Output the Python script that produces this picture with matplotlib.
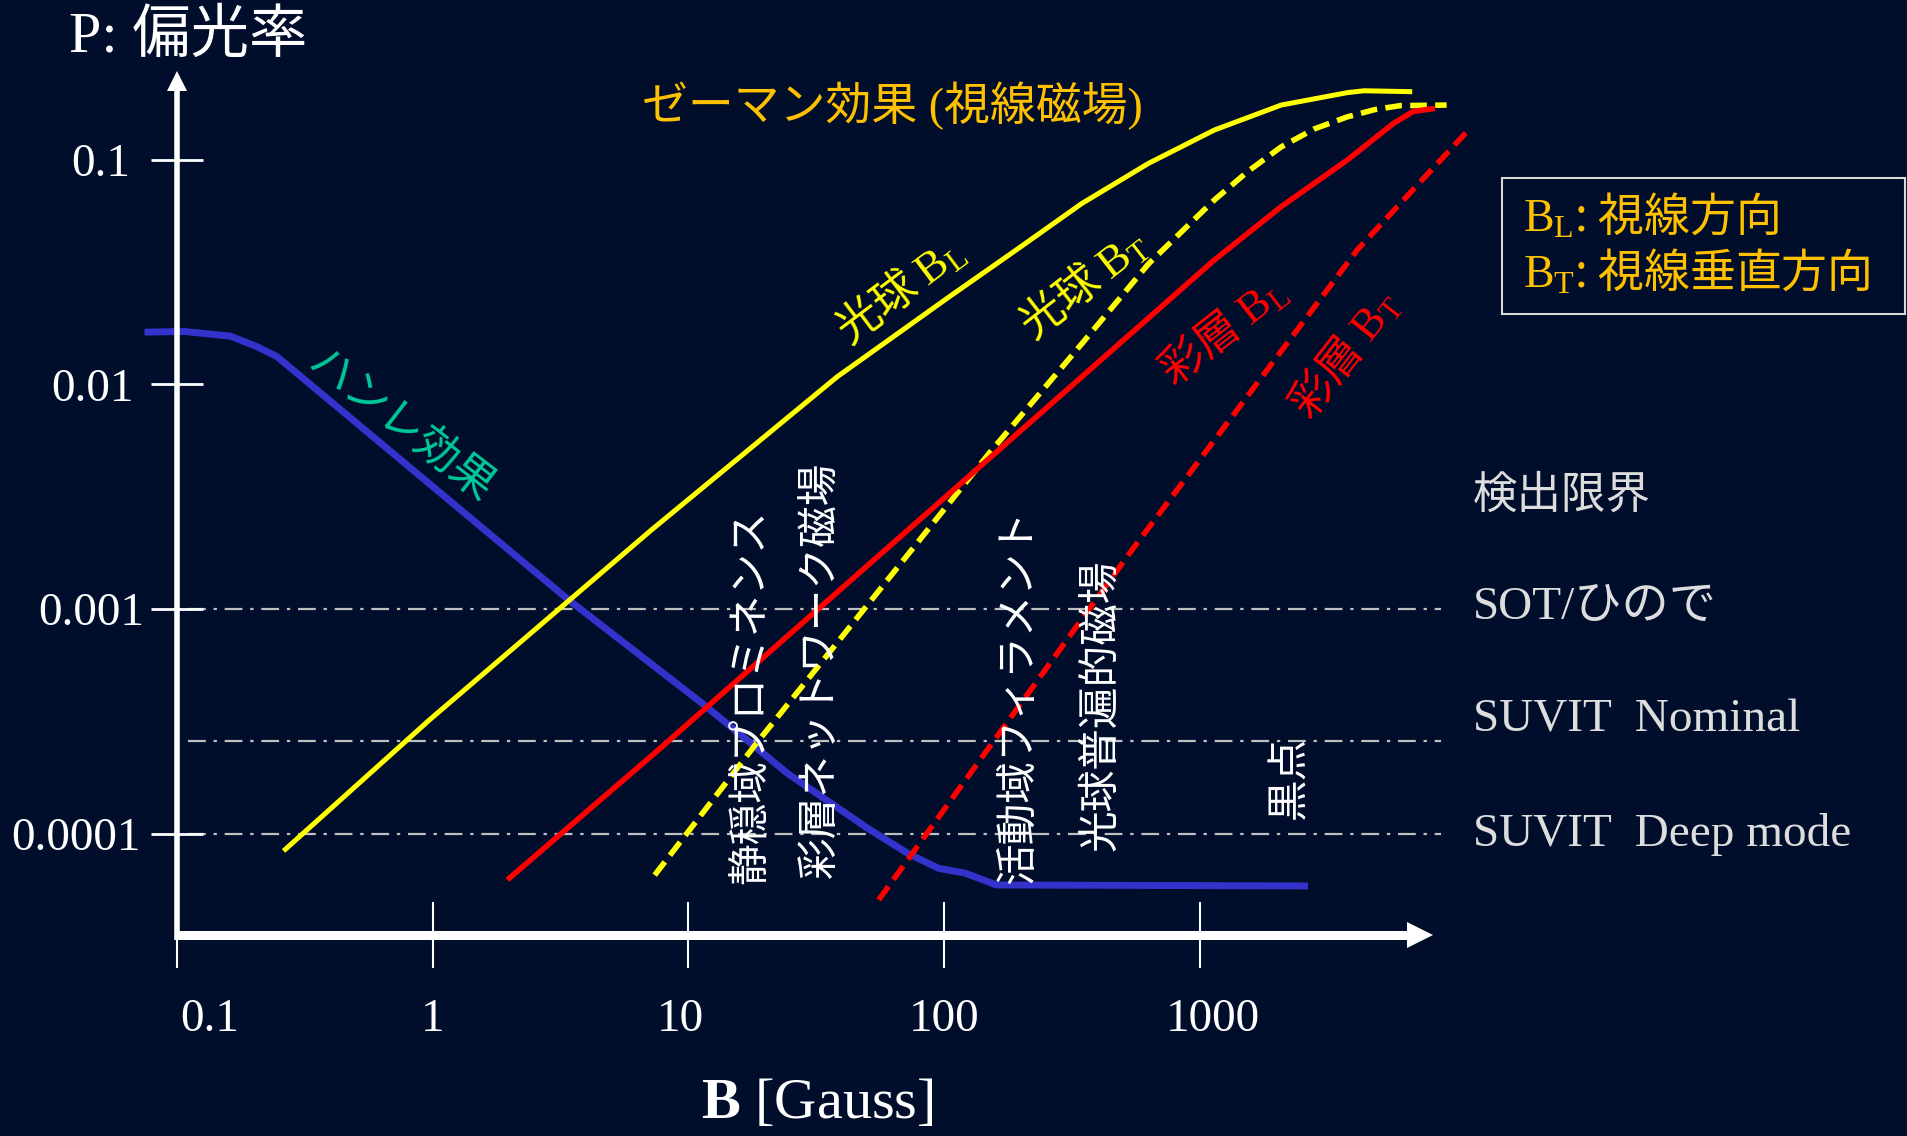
import matplotlib
matplotlib.use("Agg")
import matplotlib.pyplot as plt
from matplotlib.ticker import NullLocator
from matplotlib.transforms import ScaledTranslation
from matplotlib.patches import Rectangle

plt.rcParams['font.family'] = ['Liberation Serif', 'Noto Sans CJK JP']
plt.rcParams['mathtext.fontset'] = 'custom'
plt.rcParams['mathtext.rm'] = 'Liberation Serif'
plt.rcParams['mathtext.bf'] = 'Liberation Serif:bold'
plt.rcParams['mathtext.it'] = 'Liberation Serif:italic'

# ハンレ効果
hanle_B = [0.077, 0.107, 0.162, 0.206, 0.246, 3.40, 11.6, 24.4, 50.2, 72.0, 95.2, 121, 160, 2570]
hanle_P = [0.0171, 0.0172, 0.0164, 0.0147, 0.0133, 1.10e-3, 3.73e-4, 1.86e-4, 1.06e-4, 8.2e-5, 7.03e-5, 6.69e-5, 5.93e-5, 5.87e-5]

# 光球 BL / BT
photo_BL_B = [0.261, 0.969, 3.37, 7.16, 38.1, 105, 191, 346, 630, 1140, 2080, 3770, 4380, 6770]
photo_BL_P = [8.40e-5, 3.21e-4, 1.08e-3, 2.25e-3, 0.0108, 0.0246, 0.0396, 0.0639, 0.0963, 0.1355, 0.175, 0.1987, 0.2026, 0.2007]
photo_BT_B = [7.38, 18.5, 150, 346, 630, 1140, 1540, 2080, 2800, 3770, 4830, 6070, 9230]
photo_BT_P = [6.56e-5, 2.54e-4, 4.94e-3, 0.0152, 0.0344, 0.0662, 0.0886, 0.114, 0.137, 0.155, 0.167, 0.174, 0.175]

# 彩層 BL / BT
chromo_BL_B = [1.96, 7.38, 169, 1140, 2080, 3770, 5720, 6840, 8310]
chromo_BL_P = [6.25e-5, 2.29e-4, 5.28e-3, 0.0358, 0.0618, 0.0996, 0.145, 0.164, 0.169]
chromo_BT_B = [55.5, 542, 4120, 11400]
chromo_BT_P = [5.09e-5, 1.83e-3, 0.0396, 0.138]

# 検出限界
limit_P = [1e-3, 2.6e-4, 1e-4]
limit_labels = ['SOT/ひので', 'SUVIT  Nominal', 'SUVIT  Deep mode']

x_ticks = [0.1, 1, 10, 100, 1000]
x_ticklabels = ['0.1', '1', '10', '100', '1000']
y_ticks = [1e-4, 1e-3, 1e-2, 1e-1]
y_ticklabels = ['0.0001', '0.001', '0.01', '0.1']

# 縦書きラベル (text, x, y)
region_labels = [
    ('静穏域プロミネンス', 617, 573),
    ('彩層ネットワーク磁場', 675, 551),
    ('活動域フィラメント', 837, 573),
    ('光球普遍的磁場', 905, 580),
    ('黒点', 1061, 639),
]

bg = '#000D2B'
W, H = 1568.0, 934.0   # 座標は縮小画像基準


def fx(x):
    return x / W


def fy(y):
    return 1 - y / H


fig = plt.figure(figsize=(19.07, 11.36), dpi=100)
fig.patch.set_facecolor(bg)
ax = fig.add_axes([0.09282, 0.17694, 0.65810, 0.75995])
ax.set_facecolor(bg)
ax.set_xscale('log')
ax.set_yscale('log')
ax.set_xlim(10 ** -0.9710, 10 ** 3.9080)
ax.set_ylim(10 ** -4.4496, 10 ** -0.6085)
for s in ax.spines.values():
    s.set_visible(False)

# 軸（矢印）
ax.plot([0, 0], [-0.006, 0.979], transform=ax.transAxes, color='white', lw=4,
        solid_capstyle='butt', clip_on=False, zorder=5)
ax.plot([0], [0.989], marker='^', ms=14, color='white', mew=0,
        transform=ax.transAxes, clip_on=False, zorder=5)
ax.plot([-0.001, 0.983], [0, 0], transform=ax.transAxes, color='white', lw=6.5,
        solid_capstyle='butt', clip_on=False, zorder=5)
ax.plot([0.9904], [0], marker='>', ms=18.5, color='white', mew=0,
        transform=ax.transAxes, clip_on=False, zorder=5)

ax.set_xticks(x_ticks)
ax.set_xticklabels(x_ticklabels)
ax.set_yticks(y_ticks)
ax.set_yticklabels(y_ticklabels)
ax.xaxis.set_minor_locator(NullLocator())
ax.yaxis.set_minor_locator(NullLocator())
ax.tick_params(axis='x', direction='inout', length=47, width=1.5, pad=22,
               colors='white', labelsize=34)
ax.tick_params(axis='y', direction='inout', length=38, width=2, pad=9,
               colors='white', labelsize=34)
for lab, dx in zip(ax.get_xticklabels(), [33, 0, -8, 0, 13]):
    lab.set_transform(lab.get_transform() + ScaledTranslation(dx / 100, 0, fig.dpi_scale_trans))
for lab, dx in zip(ax.get_yticklabels(), [3, 6, -4, -8]):
    lab.set_transform(lab.get_transform() + ScaledTranslation(dx / 100, 0, fig.dpi_scale_trans))

# 検出限界の線
for p in limit_P:
    ax.axhline(p, xmin=0.009, xmax=1.007, color='#BFBFBF', lw=1.6,
               ls=(0, (8, 3.5, 1.5, 3.5)), clip_on=False, zorder=1)

# 曲線
ax.plot(hanle_B, hanle_P, color='#3333CC', lw=5, clip_on=False, zorder=3)
ax.plot(photo_BL_B, photo_BL_P, color='#FFFF00', lw=3.6, clip_on=False,
        solid_capstyle='butt', zorder=3)
ax.plot(photo_BT_B, photo_BT_P, color='#FFFF00', lw=4, ls=(0, (3, 1.5)),
        clip_on=False, zorder=3)
ax.plot(chromo_BL_B, chromo_BL_P, color='#FF0000', lw=4, clip_on=False,
        solid_capstyle='butt', zorder=3)
ax.plot(chromo_BT_B, chromo_BT_P, color='#FF0000', lw=4, ls=(0, (3, 1.5)),
        clip_on=False, zorder=3)

cjk = ['Noto Sans CJK JP']
mixed = ['Liberation Serif', 'Noto Sans CJK JP']

# 軸ラベル
fig.text(fx(57), fy(30), 'P: 偏光率', family=mixed, fontsize=42, color='white',
         ha='left', va='center')
fig.text(fx(672), fy(908), r'$\mathbf{B}$ [Gauss]', family=['Liberation Serif'],
         fontsize=42, color='white', ha='center', va='center')

# タイトル
fig.text(fx(528), fy(87), 'ゼーマン効果 (視線磁場)', family=mixed, fontsize=33,
         color='#FFC000', ha='left', va='center')

# 曲線ラベル
fig.text(fx(330), fy(350), 'ハンレ効果', family=cjk, fontsize=32, color='#00C99A',
         rotation=-37.7, ha='center', va='center')
fig.text(fx(740), fy(238), r'光球 $\mathrm{B}_{\mathrm{L}}$', family=cjk, fontsize=32,
         color='#FFFF00', rotation=37, ha='center', va='center')
fig.text(fx(891), fy(233), r'光球 $\mathrm{B}_{\mathrm{T}}$', family=cjk, fontsize=32,
         color='#FFFF00', rotation=38, ha='center', va='center')
fig.text(fx(1006), fy(272), r'彩層 $\mathrm{B}_{\mathrm{L}}$', family=cjk, fontsize=32,
         color='#FF0000', rotation=38, ha='center', va='center')
fig.text(fx(1106), fy(291), r'彩層 $\mathrm{B}_{\mathrm{T}}$', family=cjk, fontsize=32,
         color='#FF0000', rotation=52, ha='center', va='center')

# 縦書き
for txt, x, y in region_labels:
    fig.text(fx(x), fy(y), txt, family=cjk, fontsize=30, color='white',
             rotation=90, ha='center', va='center', zorder=6)

# 凡例ボックス
fig.patches.append(Rectangle((fx(1235), fy(258)), fx(1566) - fx(1235), fy(146) - fy(258),
                             transform=fig.transFigure, fill=False, ec='#D9D9D9', lw=1.5))
fig.text(fx(1252), fy(179), r'$\mathrm{B}_{\mathrm{L}}$: 視線方向', family=cjk,
         fontsize=33, color='#FFC000', ha='left', va='center')
fig.text(fx(1252), fy(225), r'$\mathrm{B}_{\mathrm{T}}$: 視線垂直方向', family=cjk,
         fontsize=33, color='#FFC000', ha='left', va='center')

# 検出限界ラベル
fig.text(fx(1211), fy(407), '検出限界', family=cjk, fontsize=32, color='#DDDDDD',
         ha='left', va='center')
for lab, y in zip(limit_labels, [500, 592, 686]):
    fig.text(fx(1211), fy(y), lab, family=mixed, fontsize=34, color='#DDDDDD',
             ha='left', va='center')

fig.savefig('out.png', dpi=100, facecolor=fig.get_facecolor())
